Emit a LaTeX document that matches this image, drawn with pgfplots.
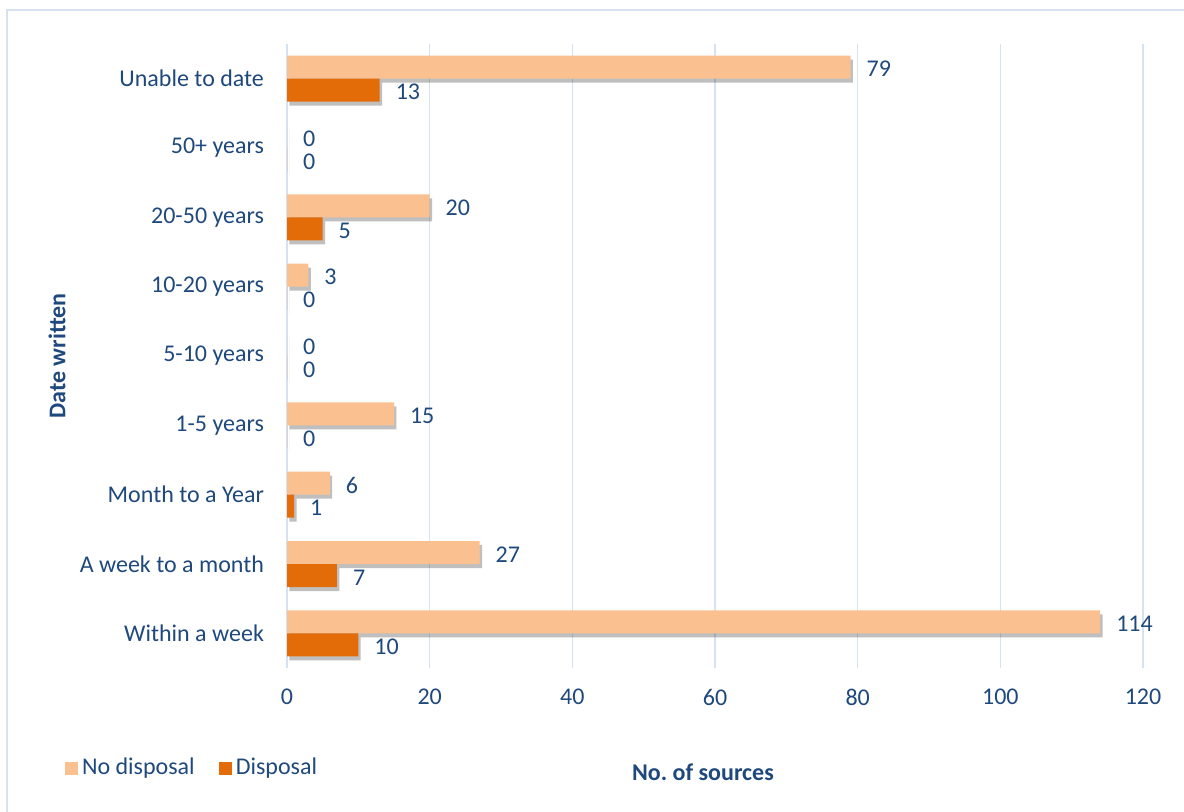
\documentclass[border=0pt]{standalone}
\usepackage{pgfplots}
\pgfplotsset{compat=1.18}
\usepackage{fontspec}
\setmainfont{Carlito}
\usetikzlibrary{shadows}
\definecolor{nodisp}{HTML}{FAC090}
\definecolor{disp}{HTML}{E36C09}
\definecolor{txt}{HTML}{1F497D}
\definecolor{gridc}{HTML}{D6E2F1}
\begin{document}
\begin{tikzpicture}
\useasboundingbox (0pt,0pt) rectangle (592pt,-405.5pt);
\draw[gridc, line width=0.75pt] (3.5pt,-5pt) rectangle (600pt,-420pt);
\begin{axis}[
  at={(143.5pt,-334pt)}, anchor=south west,
  scale only axis, width=428pt, height=312pt,
  xbar, bar width=11.5pt,
  xmin=0, xmax=120, ymin=-0.5, ymax=8.5,
  xtick={0,20,...,120},
  ytick={0,...,8},
  yticklabels={Within a week, A week to a month, Month to a Year, 1-5 years, 5-10 years, 10-20 years, 20-50 years, 50+ years, Unable to date},
  axis line style={draw=none},
  major tick length=0pt,
  xmajorgrids, major grid style={gridc, line width=0.75pt},
  tick label style={font=\fontsize{12}{14}\selectfont, text=txt},
  /pgf/number format/assume math mode=true,
  yticklabel style={xshift=-8pt},
  xticklabel style={yshift=-7pt},
  xlabel={No.\ of sources},
  ylabel={Date written},
  label style={font=\fontsize{12}{14}\selectfont\bfseries, text=txt},
  xlabel style={at={(axis description cs:0.486,-0.1667)}, anchor=center},
  ylabel style={at={(axis description cs:-0.2687,0.5)}, anchor=center},
  nodes near coords,
  every node near coord/.append style={anchor=west, xshift=4.5pt, yshift=-1pt, font=\fontsize{12}{14}\selectfont, text=txt},
  legend style={draw=none, fill=none, inner sep=0pt, outer sep=0pt,
    at={(axis description cs:-0.2593,-0.1603)}, anchor=west,
    font=\fontsize{12}{14}\selectfont, text=txt,
    /tikz/every even column/.append style={column sep=10pt}},
  legend columns=2,
  legend image code/.code={\fill[#1] (0pt,-3.25pt) rectangle (6.5pt,3.25pt);},
]
\addlegendimage{fill=nodisp, draw=none}
\addlegendimage{fill=disp, draw=none}
\addplot[forget plot, fill=nodisp, draw=none, bar shift=5.75pt,
  drop shadow={shadow xshift=1.2pt, shadow yshift=-2pt, fill=black, opacity=0.25}]
  coordinates {(114,0) (27,1) (6,2) (15,3) (0,4) (3,5) (20,6) (0,7) (79,8)};
\addplot[forget plot, fill=disp, draw=none, bar shift=-5.75pt,
  drop shadow={shadow xshift=1.2pt, shadow yshift=-2pt, fill=black, opacity=0.25}]
  coordinates {(10,0) (7,1) (1,2) (0,3) (0,4) (0,5) (5,6) (0,7) (13,8)};
\legend{No disposal, Disposal}
\end{axis}
\end{tikzpicture}
\end{document}
